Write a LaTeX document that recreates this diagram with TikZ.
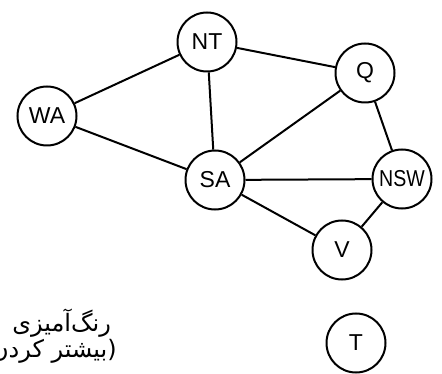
\documentclass[tikz,border=0pt]{standalone}
\usepackage{fontspec}
\setmainfont{Liberation Sans}
\newfontfamily\persianfont[Script=Arabic]{DejaVu Sans}
\TeXXeTstate=1

\begin{document}
\begin{tikzpicture}[x=1pt,y=-1pt,
    region/.style={circle,draw,line width=2pt,minimum size=59pt,inner sep=0pt,
                   font=\fontsize{23}{26}\selectfont},
    border/.style={line width=2pt},
    note/.style={anchor=base east,inner sep=0pt,font=\fontsize{24}{28}\selectfont\persianfont}]
\useasboundingbox (0,0) rectangle (442,374);
% regions of the map
\node[region] (NT)  at (207,42)  {NT};
\node[region] (Q)   at (365,73)  {Q};
\node[region] (WA)  at (47,116)  {WA};
\node[region] (SA)  at (215,180) {SA};
\node[region] (NSW) at (402,179) {\scalebox{.85}[1]{NSW}};
\node[region] (V)   at (342,250) {V};
\node[region] (T)   at (356,343) {T};
% shared borders
\foreach \a/\b in {WA/NT,WA/SA,NT/SA,NT/Q,SA/Q,SA/NSW,SA/V,Q/NSW,NSW/V}
  \draw[border] (\a) -- (\b);
% caption, cut at the left edge as in the picture
\node[note] (line1) at (111,331) {\beginR رنگ‌آمیزی\endR};
\node[note] (line2) at (117,357) {\beginR (بیشتر کردن\endR};
\end{tikzpicture}
\end{document}
